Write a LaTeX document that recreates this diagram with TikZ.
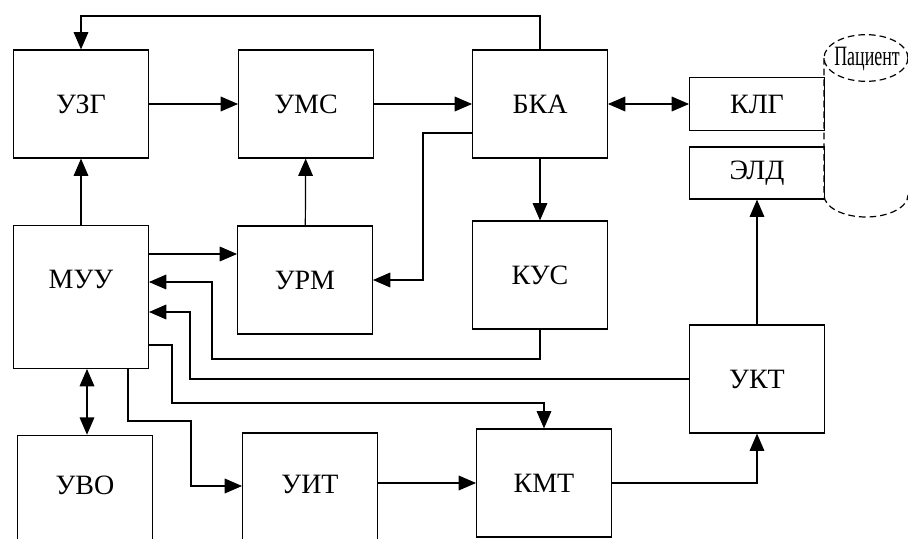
\documentclass[tikz,border=0pt]{standalone}
\usepackage{fontspec}
\setmainfont{Liberation Serif}
\usepackage{graphicx}
\usetikzlibrary{arrows.meta}

\tikzset{
  blok/.style={shape=rectangle,draw=black,minimum width=101pt,minimum height=81pt,inner sep=0pt},
  pacient/.style={dash pattern=on 5pt off 3pt}
}

\begin{document}
\begin{tikzpicture}[x=0.75pt,y=-0.75pt,line width=0.9pt,>={Triangle[length=13pt,width=11pt]},font=\fontsize{21}{25}\selectfont]
      \useasboundingbox (0,0) rectangle (908,539);

      \node[blok] (UZG) at (81,104) {УЗГ};
      \node[blok] (UMS) at (306,104) {УМС};
      \node[blok] (BKA) at (540,104) {БКА};
      \node[blok,minimum height=40pt] (KLG) at (757,104) {КЛГ};
      \node[blok,minimum height=39pt] (ELD) at (757,173) {ЭЛД};

      \node[blok,minimum height=107pt,text depth=26pt] (MUU) at (81,297) {МУУ};
      \node[blok] (URM) at (305,280) {УРМ};
      \node[blok] (KUS) at (540,275) {КУС};
      \node[blok] (UKT) at (757,379) {УКТ};

      \node[blok,minimum height=82pt,text depth=7pt] (UVO) at (85,490) {УВО};
      \node[blok,minimum height=84pt,text depth=7pt] (UIT) at (310,489) {УИТ};
      \node[blok] (KMT) at (544,483) {КМТ};

      % patient
      \draw[pacient] (866,58) ellipse [x radius=31.5pt, y radius=17.5pt];
      \draw[pacient] (824,58) -- (824,195) arc[start angle=180,end angle=360,x radius=31.5pt,y radius=16.5pt];
      \node[inner sep=0pt] (P) at (867,59) {\scalebox{0.64}[1]{Пациент}};

      \draw[->] (BKA.north) |- (UZG.north |- 0,16) -- (UZG.north);
      \draw[->] (UZG) -- (UMS);
      \draw[->] (UMS) -- (BKA);
      \draw[<->] (BKA) -- (KLG);
      \draw[->] (BKA) -- (KUS);
      \draw[->] (BKA.west |- 0,133) -| (423,280) -- (URM.east);
      \draw[->] (URM) -- (UMS);

      \draw[->] (MUU) -- (UZG);
      \draw[->] (MUU.east |- 0,254) -- (URM.west |- 0,254);
      \draw[->] (KUS.south) |- (212,359) |- (MUU.east |- 0,282);
      \draw[->] (UKT.west) -| (190,312) -- (MUU.east |- 0,312);
      \draw[->] (MUU.east |- 0,345) -| (172,403) -| (KMT.north);
      \draw[->] (MUU.south -| 128,0) |- (191,421) |- (UIT.west |- 0,486);
      \draw[<->] (MUU.south -| 87,0) -- (UVO.north -| 87,0);

      \draw[->] (UIT.east |- KMT.west) -- (KMT.west);
      \draw[->] (KMT.east) -| (UKT.south);
      \draw[->] (UKT) -- (ELD);
\end{tikzpicture}
\end{document}
